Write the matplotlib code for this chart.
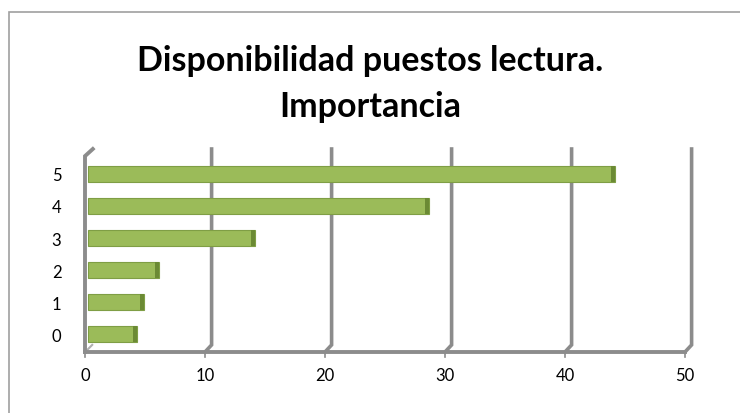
import matplotlib
matplotlib.use('Agg')
import matplotlib.pyplot as plt
import matplotlib.transforms as mtransforms
from matplotlib.patches import Rectangle

# data
categories = ['0', '1', '2', '3', '4', '5']
values = [4.1, 4.7, 5.9, 13.9, 28.4, 43.9]
x_ticks = [0, 10, 20, 30, 40, 50]
title = 'Disponibilidad puestos lectura.\nImportancia'

GREEN = '#9BBB59'
GREEN_DARK = '#6B8A34'
GREEN_EDGE = '#7F9E45'
GRID = '#8C8C8C'

fig = plt.figure(figsize=(7.4, 4.14), dpi=100)
fig.patch.set_facecolor('white')

# outer chart border (open on right and bottom)
fig.patches.append(Rectangle((9 / 740, -0.05), 0.99, 1 - 13 / 414 + 0.05,
                             transform=fig.transFigure, fill=False,
                             edgecolor='#A0A0A0', linewidth=1.2))

fig.text(0.5, 1 - 84 / 414, title, ha='center', va='center',
         fontsize=24.5, fontweight='bold', family='Lato', linespacing=1.55)

ax = fig.add_axes([85 / 740, 1 - 353 / 414, 600 / 740, 203 / 414])
ax.set_xlim(0, 50)
ax.set_ylim(-0.56, 5.78)
for s in ax.spines.values():
    s.set_visible(False)

bt = mtransforms.blended_transform_factory(ax.transData, ax.transAxes)

# back-wall gridlines with a small depth diagonal at the bottom
for v in x_ticks[1:]:
    ax.plot([v, v + 0.55, v + 0.55], [0, 0.035, 1.0], transform=bt,
            color=GRID, linewidth=2.6, clip_on=False, zorder=1,
            solid_joinstyle='miter')
    ax.plot([v, v], [0, -0.025], transform=bt, color=GRID,
            linewidth=1.2, clip_on=False, zorder=1)

# front axes
ax.plot([0, 0, 0.65], [0, 0.965, 1.0], transform=bt, color=GRID,
        linewidth=2.8, clip_on=False, zorder=4, solid_joinstyle='miter')
ax.plot([0, 50], [0, 0], transform=bt, color=GRID, linewidth=2.8,
        clip_on=False, zorder=4)
ax.plot([0, 0], [0, -0.025], transform=bt, color=GRID, linewidth=1.2,
        clip_on=False, zorder=4)
ax.plot([0.1, 0.6], [0.005, 0.035], transform=bt, color='#B0B0B0',
        linewidth=1.5, clip_on=False, zorder=2)

# bars with a darker end cap to mimic the 3-D look
shift = ax.transData + mtransforms.ScaledTranslation(3 / 100, 0, fig.dpi_scale_trans)
ypos = list(range(len(categories)))
ax.barh(ypos, values, height=0.52, color=GREEN, edgecolor=GREEN_EDGE,
        linewidth=0.8, transform=shift, zorder=3)
ax.barh(ypos, [0.35] * len(values), left=[v - 0.35 for v in values],
        height=0.52, color=GREEN_DARK, linewidth=0, transform=shift, zorder=3)

ax.set_yticks(ypos)
ax.set_yticklabels(categories)
ax.set_xticks(x_ticks)
ax.set_xticklabels([str(t) for t in x_ticks])
ax.tick_params(axis='both', length=0, labelsize=12)
ax.tick_params(axis='x', pad=11)
ax.tick_params(axis='y', pad=17)
for lbl in ax.get_xticklabels() + ax.get_yticklabels():
    lbl.set_family('Lato')

fig.savefig('out.png', dpi=100)
